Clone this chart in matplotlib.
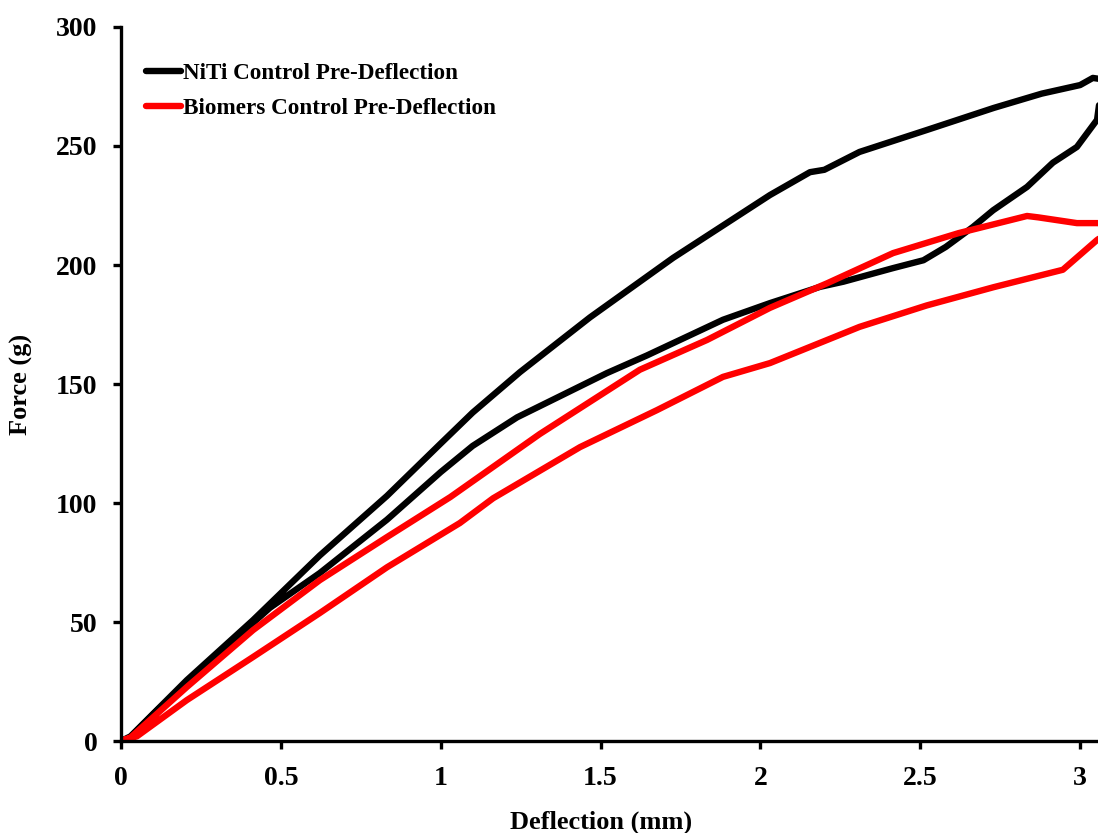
import matplotlib
matplotlib.use("Agg")
import matplotlib.pyplot as plt

plt.rcParams['font.family'] = ['Liberation Serif', 'DejaVu Serif']
plt.rcParams['font.weight'] = 'bold'

# NiTi: loading (upper branch) then unloading (lower branch)
niti_x = [0.0, 0.03, 0.206, 0.413, 0.622, 0.832, 1.0, 1.1, 1.248, 1.467, 1.727, 2.03, 2.155, 2.2, 2.31, 2.52, 2.73, 2.88, 3.0, 3.04, 3.07,
          3.053, 2.99, 2.915, 2.834, 2.728, 2.665, 2.58, 2.51, 2.415, 2.26, 2.186, 2.03, 1.883, 1.645, 1.52, 1.239, 1.1, 1.0, 0.832, 0.622, 0.466, 0.25, 0.1, 0.02]
niti_y = [0.0, 2.0, 25.6, 50.8, 78.0, 103.0, 125.0, 138.0, 155.0, 178.0, 203.0, 229.4, 239.0, 240.0, 247.5, 256.7, 266.0, 272.0, 275.6, 278.6, 278.0,
          261.0, 249.6, 243.0, 232.8, 223.0, 216.0, 207.6, 202.0, 198.7, 193.0, 190.8, 184.0, 177.0, 162.0, 154.6, 136.0, 124.0, 113.0, 93.0, 70.6, 56.0, 30.0, 11.0, 0.0]

# Biomers: loading (upper branch) then unloading (lower branch)
bio_x = [0.0, 0.03, 0.206, 0.413, 0.622, 0.832, 1.03, 1.31, 1.623, 1.833, 2.03, 2.21, 2.415, 2.62, 2.834, 2.87, 2.99, 3.053, 3.08,
         3.08, 3.053, 2.946, 2.73, 2.52, 2.31, 2.03, 1.883, 1.676, 1.436, 1.164, 1.06, 0.832, 0.622, 0.413, 0.206, 0.05, 0.0]
bio_y = [0.0, 1.5, 22.7, 46.6, 67.6, 85.7, 102.5, 129.0, 156.0, 168.5, 182.0, 192.4, 205.0, 213.4, 220.6, 220.0, 217.6, 217.6, 217.5,
         213.0, 210.5, 198.0, 190.7, 183.0, 174.0, 158.8, 153.0, 139.0, 123.5, 102.0, 91.6, 73.0, 53.8, 35.3, 17.2, 2.0, 0.0]

x_ticks = [0, 0.5, 1, 1.5, 2, 2.5, 3]
x_tick_labels = ['0', '0.5', '1', '1.5', '2', '2.5', '3']
y_ticks = [0, 50, 100, 150, 200, 250, 300]
labels = ['NiTi Control Pre-Deflection', 'Biomers Control Pre-Deflection']

fig = plt.figure(figsize=(10.98, 8.33), dpi=100)
ax = fig.add_axes([0.1102, 0.1104, 0.8898, 0.8572])

ax.plot(niti_x, niti_y, color='black', lw=4.6, solid_capstyle='round', solid_joinstyle='round', label=labels[0])
ax.plot(bio_x, bio_y, color='#ff0000', lw=4.6, solid_capstyle='round', solid_joinstyle='round', label=labels[1])

ax.set_xlim(0, 3.056)
ax.set_ylim(0, 300)
ax.set_xticks(x_ticks)
ax.set_xticklabels(x_tick_labels)
ax.set_yticks(y_ticks)

for s in ['top', 'right']:
    ax.spines[s].set_visible(False)
for s in ['left', 'bottom']:
    ax.spines[s].set_linewidth(2.4)
ax.tick_params(axis='y', direction='out', length=6, width=2.4, labelsize=20, pad=11)
ax.tick_params(axis='x', direction='out', length=6, width=2.4, labelsize=20, pad=12)
for lab in ax.get_xticklabels() + ax.get_yticklabels():
    lab.set_fontweight('bold')

ax.set_xlabel('Deflection (mm)', fontsize=19, fontweight='bold', va='center')
ax.xaxis.set_label_coords(0.491, -0.1135)
ax.set_ylabel('Force (g)', fontsize=19, fontweight='bold', va='center')
ax.yaxis.set_label_coords(-0.1015, 0.5)

leg = ax.legend(loc='upper left', bbox_to_anchor=(0.004, 0.979), frameon=False, fontsize=16.7,
                handlelength=1.5, handletextpad=0.1, labelspacing=0.6, borderaxespad=0.5)
for t in leg.get_texts():
    t.set_fontweight('bold')

fig.savefig('out.png', dpi=100)
